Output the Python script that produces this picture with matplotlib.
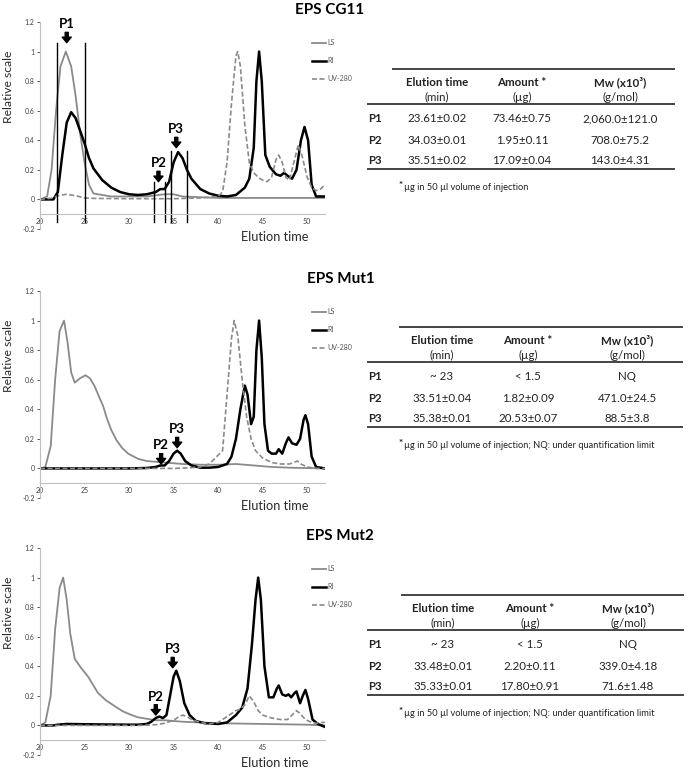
import matplotlib.pyplot as plt
from matplotlib.lines import Line2D

plt.rcParams['font.family'] = ['Lato', 'DejaVu Sans']

x_ticks = [20, 25, 30, 35, 40, 45, 50]
y_ticks = [-0.2, 0, 0.2, 0.4, 0.6, 0.8, 1, 1.2]
y_tick_labels = ['-0.2', '0', '0.2', '0.4', '0.6', '0.8', '1', '1.2']
series_names = ['LS', 'RI', 'UV-280']

# ---- EPS CG11 ----
cg11_ls_t = [20, 20.8, 21.3, 21.8, 22.3, 22.9, 23.5, 24, 24.5, 25, 25.5, 26, 28, 32, 34, 35, 36, 40, 52]
cg11_ls = [0, 0.02, 0.2, 0.6, 0.9, 1.0, 0.9, 0.7, 0.45, 0.25, 0.1, 0.04, 0.02, 0.02, 0.035, 0.035, 0.02, 0.01, 0.01]
cg11_ri_t = [20, 21.5, 22, 22.5, 23, 23.5, 24, 25, 25.5, 26, 27, 28, 29, 30, 31, 32, 33, 33.5, 34, 34.5,
             35, 35.5, 36, 36.5, 37, 38, 39, 40, 41, 42, 43, 43.5, 44, 44.3, 44.6, 44.9, 45.3, 45.8,
             46.5, 47, 47.4, 47.8, 48.3, 48.8, 49.3, 49.7, 50.1, 50.5, 51, 52]
cg11_ri = [0, 0, 0.05, 0.3, 0.52, 0.59, 0.55, 0.38, 0.28, 0.21, 0.13, 0.08, 0.05, 0.035, 0.03, 0.035, 0.05, 0.07, 0.07, 0.12,
           0.25, 0.32, 0.28, 0.2, 0.14, 0.07, 0.04, 0.025, 0.02, 0.03, 0.08, 0.14, 0.35, 0.8, 1.0, 0.8, 0.3, 0.22,
           0.17, 0.16, 0.18, 0.16, 0.14, 0.2, 0.4, 0.49, 0.4, 0.1, 0.02, 0.02]
cg11_uv_t = [20, 21.5, 22, 23, 24, 25, 26, 30, 35, 38, 40, 40.5, 41, 41.5, 42, 42.2, 42.5, 43, 43.5, 44,
             44.5, 45, 45.5, 46, 46.5, 46.8, 47.2, 47.6, 48, 48.5, 49, 49.4, 50, 50.5, 51, 51.5, 52]
cg11_uv = [0, 0.01, 0.025, 0.035, 0.025, 0.01, 0.007, 0.005, 0.005, 0.01, 0.02, 0.05, 0.25, 0.65, 0.97, 1.0, 0.9, 0.5, 0.25, 0.18,
           0.15, 0.13, 0.12, 0.15, 0.27, 0.3, 0.25, 0.15, 0.13, 0.25, 0.37, 0.3, 0.15, 0.08, 0.06, 0.07, 0.1]
cg11_cuts = [21.9, 25.0, 32.8, 34.0, 34.7, 36.5]
cg11_cut_tops = [1.06, 1.06, 0.12, 0.12, 0.33, 0.33]
cg11_peaks = ['P1', 'P2', 'P3']
cg11_peak_x = [23.0, 33.3, 35.3]
cg11_peak_y = [1.06, 0.12, 0.35]

# ---- EPS Mut1 ----
mut1_ls_t = [20, 20.6, 21.2, 21.7, 22.2, 22.7, 23.1, 23.5, 23.9, 24.5, 25.1, 25.6, 26.1, 26.6, 27.1, 27.5, 28, 28.6, 29.2, 29.9,
             31, 32, 33, 34, 35, 36, 38, 40, 42, 44, 46, 48, 52]
mut1_ls = [0, 0.01, 0.15, 0.6, 0.93, 1.0, 0.85, 0.65, 0.58, 0.61, 0.63, 0.61, 0.56, 0.49, 0.42, 0.34, 0.26, 0.19, 0.14, 0.1,
           0.065, 0.05, 0.045, 0.04, 0.035, 0.03, 0.025, 0.025, 0.03, 0.02, 0.01, 0.005, 0]
mut1_ri_t = [20, 30, 32, 33, 33.5, 34, 34.5, 35, 35.4, 35.8, 36.3, 37, 38, 39, 40, 41, 41.5, 42, 42.5, 43,
             43.3, 43.7, 44, 44.3, 44.6, 44.9, 45.2, 45.6, 46, 46.5, 46.8, 47.2, 47.6, 47.9, 48.3, 48.8, 49.2,
             49.6, 49.8, 50.1, 50.5, 51, 52]
mut1_ri = [0, 0, 0.003, 0.01, 0.02, 0.02, 0.05, 0.1, 0.12, 0.1, 0.05, 0.02, 0.005, 0.005, 0.01, 0.03, 0.08, 0.2, 0.4, 0.56,
           0.5, 0.3, 0.35, 0.8, 1.0, 0.75, 0.3, 0.12, 0.1, 0.1, 0.13, 0.1, 0.17, 0.21, 0.17, 0.16, 0.2,
           0.33, 0.36, 0.3, 0.08, 0.01, 0]
mut1_uv_t = [20, 35, 37, 38, 39, 39.5, 40, 40.5, 41, 41.5, 41.8, 42.2, 42.7, 43.2, 43.7, 44.2, 45, 46, 47, 48,
             48.5, 48.9, 49.3, 50, 51, 52]
mut1_uv = [0, 0, 0.005, 0.01, 0.03, 0.06, 0.09, 0.12, 0.5, 0.88, 1.0, 0.9, 0.6, 0.35, 0.2, 0.12, 0.07, 0.04, 0.03, 0.03,
           0.04, 0.05, 0.03, 0.01, 0, 0]
mut1_peaks = ['P2', 'P3']
mut1_peak_x = [33.6, 35.4]
mut1_peak_y = [0.03, 0.14]

# ---- EPS Mut2 ----
mut2_ls_t = [20, 20.6, 21.2, 21.7, 22.2, 22.6, 23, 23.4, 23.9, 24.6, 25.4, 26.5, 27.4, 28.4, 29.3, 30.3, 31, 32, 33, 34,
             35, 36, 38, 40, 45, 50, 52]
mut2_ls = [0, 0.02, 0.2, 0.65, 0.93, 1.0, 0.85, 0.62, 0.45, 0.39, 0.33, 0.22, 0.17, 0.13, 0.095, 0.07, 0.055, 0.045, 0.035, 0.035,
           0.03, 0.025, 0.02, 0.015, 0.01, 0.005, 0]
mut2_ri_t = [20, 21.5, 22, 23, 25, 30, 31, 32, 32.5, 33, 33.4, 33.8, 34.2, 34.6, 35, 35.3, 35.7, 36.2, 36.8, 37.5,
             38.5, 40, 41, 42, 42.7, 43.3, 43.8, 44.2, 44.5, 44.8, 45.2, 45.7, 46.2, 46.6, 46.8, 47.2, 47.6,
             47.9, 48.2, 48.6, 48.8, 49.2, 49.5, 49.8, 50.1, 50.6, 51.2, 52]
mut2_ri = [0, 0, 0.005, 0.01, 0.008, 0.005, 0.005, 0.01, 0.025, 0.05, 0.06, 0.05, 0.07, 0.2, 0.33, 0.37, 0.3, 0.15, 0.07, 0.03,
           0.015, 0.01, 0.02, 0.07, 0.12, 0.25, 0.55, 0.85, 1.0, 0.85, 0.4, 0.19, 0.19, 0.25, 0.27, 0.21, 0.2,
           0.21, 0.19, 0.22, 0.23, 0.15, 0.2, 0.24, 0.18, 0.04, 0.01, -0.01]
mut2_uv_t = [20, 31, 32, 33, 34, 35, 35.5, 36, 36.5, 37, 38, 39, 40, 41, 42, 42.5, 43, 43.5, 44, 44.5,
             45, 46, 47, 47.8, 48.3, 48.8, 49.2, 49.8, 50.5, 51, 51.5, 52]
mut2_uv = [0, 0, 0.002, 0.005, 0.015, 0.035, 0.055, 0.07, 0.06, 0.04, 0.02, 0.01, 0.02, 0.06, 0.1, 0.11, 0.14, 0.2, 0.16, 0.1,
           0.07, 0.05, 0.04, 0.04, 0.07, 0.1, 0.08, 0.04, 0.02, 0.015, 0.02, 0.02]
mut2_peaks = ['P2', 'P3']
mut2_peak_x = [33.0, 34.9]
mut2_peak_y = [0.07, 0.39]

# ---- tables ----
row_labels = ['P1', 'P2', 'P3']
header_top = ['Elution time', 'Amount *', 'Mw (x10³)']
header_units = ['(min)', '(µg)', '(g/mol)']
cg11_elution = ['23.61±0.02', '34.03±0.01', '35.51±0.02']
cg11_amount = ['73.46±0.75', '1.95±0.11', '17.09±0.04']
cg11_mw = ['2,060.0±121.0', '708.0±75.2', '143.0±4.31']
mut1_elution = ['~ 23', '33.51±0.04', '35.38±0.01']
mut1_amount = ['< 1.5', '1.82±0.09', '20.53±0.07']
mut1_mw = ['NQ', '471.0±24.5', '88.5±3.8']
mut2_elution = ['~ 23', '33.48±0.01', '35.33±0.01']
mut2_amount = ['< 1.5', '2.20±0.11', '17.80±0.91']
mut2_mw = ['NQ', '339.0±4.18', '71.6±1.48']
note_short = 'µg in 50 µl volume of injection'
note_long = 'µg in 50 µl volume of injection; NQ: under quantification limit'

LS_COLOR = '#8a8a8a'
W, H = 696, 769

fig = plt.figure(figsize=(W / 100, H / 100), dpi=100)


def make_panel(bottom_px, title, title_x, ls, ri, uv, peaks):
    ax = fig.add_axes([40 / W, 1 - bottom_px / H, 285 / W, 207 / H])
    ax.plot(ls[0], ls[1], color=LS_COLOR, lw=1.3, label=series_names[0])
    ax.plot(ri[0], ri[1], color='black', lw=1.8, label=series_names[1])
    ax.plot(uv[0], uv[1], color=LS_COLOR, lw=1.2, ls=(0, (3, 1.5)), label=series_names[2])
    ax.set_xlim(20, 52)
    ax.set_ylim(-0.2, 1.2)
    ax.set_xticks(x_ticks)
    ax.set_yticks(y_ticks)
    ax.set_yticklabels(y_tick_labels)
    for s in ['top', 'right']:
        ax.spines[s].set_visible(False)
    ax.spines['bottom'].set_position(('data', -0.1))
    for s in ['left', 'bottom']:
        ax.spines[s].set_color('#bfbfbf')
        ax.spines[s].set_linewidth(0.8)
    ax.tick_params(labelsize=5, colors='#404040', length=2, width=0.6, pad=2)
    ax.tick_params(axis='x', pad=3, length=0)
    ax.patch.set_visible(False)
    ax.text(-0.112, 0.685, 'Relative scale', transform=ax.transAxes, rotation=90,
            ha='center', va='center', fontsize=8.7, color='#2a2a2a')
    ax.text(0.825, -0.04, 'Elution time', transform=ax.transAxes,
            ha='center', va='center', fontsize=9.2, color='#2a2a2a')
    ax.legend(loc='upper left', bbox_to_anchor=(0.945, 0.93), frameon=False, fontsize=5,
              handlelength=2.0, labelspacing=1.6, handletextpad=0.2, borderaxespad=0,
              labelcolor='#555555')
    for name, px, py in zip(*peaks):
        ax.annotate('', xy=(px, py), xytext=(px, py + 0.07),
                    arrowprops=dict(width=2.2, headwidth=6.5, headlength=4, color='black', shrink=0))
        ax.text(px, py + 0.085, name, ha='center', va='bottom', fontsize=9.5, fontweight='bold')
    fig.text(title_x / W, 1 - (bottom_px - 219) / H, title, ha='left', va='center',
             fontsize=11, fontweight='bold')
    return ax


ax1 = make_panel(229, 'EPS CG11', 295, (cg11_ls_t, cg11_ls), (cg11_ri_t, cg11_ri),
                 (cg11_uv_t, cg11_uv), (cg11_peaks, cg11_peak_x, cg11_peak_y))
for cx, top in zip(cg11_cuts, cg11_cut_tops):
    ax1.plot([cx, cx], [-0.15, top], color='black', lw=1.0, clip_on=False)

make_panel(498, 'EPS Mut1', 307, (mut1_ls_t, mut1_ls), (mut1_ri_t, mut1_ri),
           (mut1_uv_t, mut1_uv), (mut1_peaks, mut1_peak_x, mut1_peak_y))
make_panel(755, 'EPS Mut2', 306, (mut2_ls_t, mut2_ls), (mut2_ri_t, mut2_ri),
           (mut2_uv_t, mut2_uv), (mut2_peaks, mut2_peak_x, mut2_peak_y))

# overlay in pixel coordinates for the tables
ov = fig.add_axes([0, 0, 1, 1])
ov.set_xlim(0, W)
ov.set_ylim(H, 0)
ov.axis('off')
ov.patch.set_visible(False)


def draw_table(y0, x_top, x_right, col_x, cols, note):
    rule = dict(color='#444444', lw=1.4)
    ov.add_line(Line2D([x_top, x_right], [y0, y0], **rule))
    ov.add_line(Line2D([368, x_right], [y0 + 35, y0 + 35], **rule))
    ov.add_line(Line2D([368, x_right], [y0 + 100, y0 + 100], **rule))
    for cx, top, unit in zip(col_x, header_top, header_units):
        ov.text(cx, y0 + 13, top, ha='center', va='center', fontsize=8.3, fontweight='bold', color='#222222')
        ov.text(cx, y0 + 28, unit, ha='center', va='center', fontsize=8.3, color='#222222')
    for i, lab in enumerate(row_labels):
        yy = y0 + 50 + 21 * i
        ov.text(368, yy, lab, ha='left', va='center', fontsize=8.3, fontweight='bold', color='#222222')
        for cx, col in zip(col_x, cols):
            ov.text(cx, yy, col[i], ha='center', va='center', fontsize=8.3, color='#222222')
    ov.text(399, y0 + 116, '*', ha='left', va='center', fontsize=7, fontweight='bold', color='#222222')
    ov.text(404, y0 + 119, note, ha='left', va='center', fontsize=6.7, color='#222222')


draw_table(69, 393, 674, [437, 522, 620], [cg11_elution, cg11_amount, cg11_mw], note_short)
draw_table(327, 400, 682, [442, 528, 627], [mut1_elution, mut1_amount, mut1_mw], note_long)
draw_table(595, 402, 683, [443, 530, 628], [mut2_elution, mut2_amount, mut2_mw], note_long)

fig.savefig('out.png', dpi=100)
